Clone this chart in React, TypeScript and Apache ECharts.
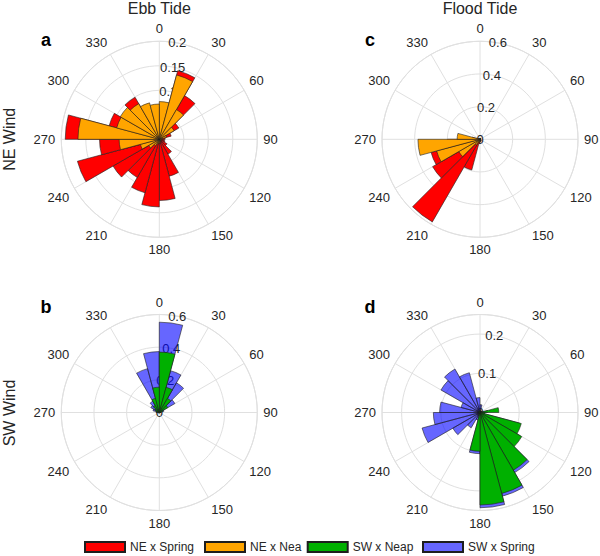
import React, { useEffect, useRef } from 'react';
import * as echarts from 'echarts';

// 15-degree direction bins (clockwise from north)
const binLabels = [
  '0-15', '15-30', '30-45', '45-60', '60-75', '75-90',
  '90-105', '105-120', '120-135', '135-150', '150-165', '165-180',
  '180-195', '195-210', '210-225', '225-240', '240-255', '255-270',
  '270-285', '285-300', '300-315', '315-330', '330-345', '345-360',
];

// Panel a: Ebb tide, NE wind
const ebbNESpring = [0.065, 0.145, 0.103, 0.046, 0.025, 0.012, 0.01, 0.012, 0.018, 0.035, 0.078, 0.125, 0.138, 0.113, 0.09, 0.109, 0.173, 0.122, 0.192, 0.106, 0.08, 0.099, 0.06, 0.05];
const ebbNENeap = [0.077, 0.136, 0.07, 0.035, 0.015, 0.006, 0.004, 0.003, 0.003, 0.004, 0.005, 0.006, 0.008, 0.01, 0.015, 0.025, 0.04, 0.082, 0.166, 0.09, 0.092, 0.084, 0.077, 0.072];

// Panel c: Flood tide, NE wind
const floodNESpring = [0.006, 0.005, 0.004, 0.004, 0.004, 0.005, 0.005, 0.006, 0.008, 0.01, 0.012, 0.015, 0.025, 0.195, 0.584, 0.335, 0.31, 0.2, 0.05, 0.01, 0.006, 0.005, 0.005, 0.006];
const floodNENeap = [0.004, 0.003, 0.003, 0.003, 0.003, 0.003, 0.003, 0.003, 0.004, 0.005, 0.006, 0.008, 0.01, 0.02, 0.04, 0.15, 0.275, 0.38, 0.14, 0.012, 0.006, 0.005, 0.004, 0.004];

// Panel b: Ebb tide, SW wind
const ebbSWSpring = [0.553, 0.265, 0.21, 0.11, 0.03, 0.01, 0.004, 0.003, 0.003, 0.003, 0.003, 0.003, 0.003, 0.003, 0.003, 0.003, 0.004, 0.006, 0.02, 0.04, 0.06, 0.08, 0.278, 0.373];
const ebbSWNeap = [0.37, 0.16, 0.1, 0.06, 0.02, 0.006, 0.003, 0.002, 0.002, 0.002, 0.002, 0.002, 0.002, 0.002, 0.002, 0.002, 0.003, 0.004, 0.01, 0.02, 0.03, 0.05, 0.09, 0.155];

// Panel d: Flood tide, SW wind
const floodSWSpring = [0.02, 0.006, 0.004, 0.004, 0.005, 0.02, 0.012, 0.105, 0.118, 0.177, 0.221, 0.243, 0.105, 0.02, 0.045, 0.08, 0.153, 0.119, 0.103, 0.05, 0.115, 0.128, 0.105, 0.038];
const floodSWNeap = [0.003, 0.003, 0.003, 0.003, 0.004, 0.048, 0.012, 0.109, 0.123, 0.17, 0.214, 0.236, 0.099, 0.008, 0.004, 0.003, 0.003, 0.003, 0.003, 0.003, 0.003, 0.003, 0.003, 0.003];

const legendNames = ['NE x Spring', 'NE x Neap', 'SW x Neap', 'SW x Spring'];
const colTitles = ['Ebb Tide', 'Flood Tide'];
const rowTitles = ['NE Wind', 'SW Wind'];

const FONT = '"Liberation Sans", Arial, Helvetica, sans-serif';
const TXT = '#262626';
const GRID = '#e0e0e0';

const colors: Record<string, string> = {
  'NE x Spring': '#ff0000',
  'NE x Neap': '#ffa500',
  'SW x Neap': '#00b000',
  'SW x Spring': 'rgba(0,0,255,0.6)',
};

type Panel = {
  letter: string;
  cx: number;
  cy: number;
  rMax: number;
  interval: number;
  series: [string, number[]][];
};

const panels: Panel[] = [
  { letter: 'a', cx: 159.3, cy: 139.3, rMax: 0.2, interval: 0.05, series: [['NE x Spring', ebbNESpring], ['NE x Neap', ebbNENeap]] },
  { letter: 'c', cx: 480, cy: 139.3, rMax: 0.6, interval: 0.2, series: [['NE x Spring', floodNESpring], ['NE x Neap', floodNENeap]] },
  { letter: 'b', cx: 159.3, cy: 412.5, rMax: 0.6, interval: 0.2, series: [['SW x Spring', ebbSWSpring], ['SW x Neap', ebbSWNeap]] },
  { letter: 'd', cx: 480, cy: 412.5, rMax: 0.25, interval: 0.1, series: [['SW x Spring', floodSWSpring], ['SW x Neap', floodSWNeap]] },
];

const R = 98;

function buildOption() {
  const polar: any[] = [];
  const angleAxis: any[] = [];
  const radiusAxis: any[] = [];
  const series: any[] = [];
  const graphic: any[] = [];

  panels.forEach((p, i) => {
    const g = i * 3;
    for (let k = 0; k < 3; k++) polar.push({ center: [p.cx, p.cy], radius: R });

    // grid polar
    angleAxis.push({
      polarIndex: g, type: 'value', min: 0, max: 360, interval: 30,
      startAngle: 90, clockwise: true, z: 0,
      axisLine: { show: true, lineStyle: { color: GRID, width: 1 } },
      axisTick: { show: false },
      axisLabel: { show: true, color: TXT, fontSize: 13, fontFamily: FONT, margin: 6 },
      splitLine: { show: true, lineStyle: { color: GRID, width: 1 } },
    });
    radiusAxis.push({
      polarIndex: g, type: 'value', min: 0, max: p.rMax, interval: p.interval, z: 0,
      axisLine: { show: false }, axisTick: { show: false }, axisLabel: { show: false },
      splitLine: { show: true, lineStyle: { color: GRID, width: 1 } },
    });

    // bar polar
    angleAxis.push({
      polarIndex: g + 1, type: 'category', data: binLabels, startAngle: 90, clockwise: true,
      boundaryGap: true, show: false,
      axisLine: { show: false }, axisTick: { show: false }, axisLabel: { show: false }, splitLine: { show: false },
    });
    radiusAxis.push({
      polarIndex: g + 1, type: 'value', min: 0, max: p.rMax, show: false,
      axisLine: { show: false }, axisTick: { show: false }, axisLabel: { show: false }, splitLine: { show: false },
    });

    // label polar (radial tick labels drawn along a ray slightly clockwise of north)
    angleAxis.push({
      polarIndex: g + 2, type: 'value', min: 0, max: 360, startAngle: 79.5, clockwise: true, show: false,
      axisLine: { show: false }, axisTick: { show: false }, axisLabel: { show: false }, splitLine: { show: false },
    });
    const iv = p.interval;
    radiusAxis.push({
      polarIndex: g + 2, type: 'value', min: 0, max: p.rMax, interval: iv, z: 0,
      axisLine: { show: false }, axisTick: { show: false }, splitLine: { show: false },
      axisLabel: {
        show: true, margin: 0, align: 'center', verticalAlign: 'middle',
        color: TXT, fontSize: 13, fontFamily: FONT,
        formatter: (v: number) => {
          const q = v / iv;
          if (Math.abs(q - Math.round(q)) > 1e-6) return '';
          return String(parseFloat(v.toFixed(3)));
        },
      },
    });

    p.series.forEach(([name, data]) => {
      series.push({
        type: 'bar', coordinateSystem: 'polar', polarIndex: g + 1, name, data,
        barGap: '-100%', barCategoryGap: '0%', z: 2,
        itemStyle: { color: colors[name], borderColor: '#1e1e1e', borderWidth: 0.6 },
        emphasis: { disabled: true },
      });
    });

    graphic.push({
      type: 'text', x: i % 2 === 0 ? 46 : 370, y: i < 2 ? 40 : 307,
      style: { text: p.letter, font: `bold 18px ${FONT}`, fill: '#000', align: 'center', verticalAlign: 'middle' },
    });
  });

  colTitles.forEach((t, j) => {
    graphic.push({
      type: 'text', x: j === 0 ? 159.3 : 480, y: 8.5,
      style: { text: t, font: `16px ${FONT}`, fill: TXT, align: 'center', verticalAlign: 'middle' },
    });
  });
  rowTitles.forEach((t, j) => {
    graphic.push({
      type: 'text', x: 9, y: j === 0 ? 139.3 : 413, rotation: Math.PI / 2,
      style: { text: t, font: `16px ${FONT}`, fill: TXT, align: 'center', verticalAlign: 'middle' },
    });
  });

  const legendLeft = [84, 204, 306.7, 422];
  const legend = legendNames.map((n, j) => ({
    data: [n], left: legendLeft[j], top: 541, padding: 0,
    itemWidth: 40, itemHeight: 10, icon: 'rect', selectedMode: false,
    textStyle: {
      color: TXT, fontSize: 12, fontFamily: FONT,
      ...(n === 'NE x Neap' ? { width: 54, overflow: 'truncate', ellipsis: '' } : {}),
    },
  }));

  return {
    animation: false,
    backgroundColor: '#ffffff',
    polar, angleAxis, radiusAxis, series, legend, graphic,
  };
}

export default function App() {
  const ref = useRef<HTMLDivElement>(null);
  useEffect(() => {
    document.body.style.margin = '0';
    if (!ref.current) return;
    const chart = echarts.init(ref.current, null, { renderer: 'svg' });
    chart.setOption(buildOption() as any);
    return () => chart.dispose();
  }, []);
  return <div ref={ref} style={{ width: 600, height: 556 }} />;
}
